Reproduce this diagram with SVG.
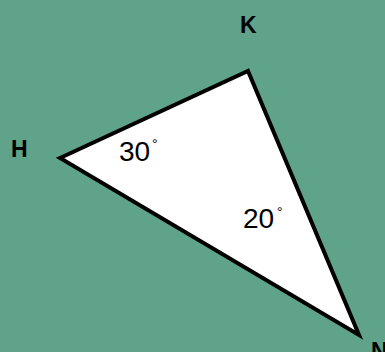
<svg xmlns="http://www.w3.org/2000/svg" width="385" height="352" viewBox="0 0 385 352">
<style>
.lbl{font-family:"Liberation Sans",Arial,sans-serif;font-weight:bold;font-size:23px;fill:#000}
.ang{font-family:"Liberation Sans",Arial,sans-serif;font-size:28px;fill:#000}
.deg{font-family:"Liberation Sans",Arial,sans-serif;font-size:14px;fill:#000}
</style>
<rect width="385" height="352" fill="#5fa38a"/>
<g id="triangle">
<polygon points="60,158 248,71 359,335" fill="#fff" stroke="#000" stroke-width="4" stroke-linejoin="miter" stroke-miterlimit="10"/>
</g>
<g id="H"><text class="lbl" x="11" y="157">H</text></g>
<g id="K"><text class="lbl" x="240" y="33">K</text></g>
<g id="N"><text class="lbl" x="371" y="359">N</text></g>
<g id="angleH"><text class="ang" x="119" y="161">30</text><text class="deg" x="152" y="149">°</text></g>
<g id="angleN"><text class="ang" x="243" y="228">20</text><text class="deg" x="277" y="217">°</text></g>
</svg>
